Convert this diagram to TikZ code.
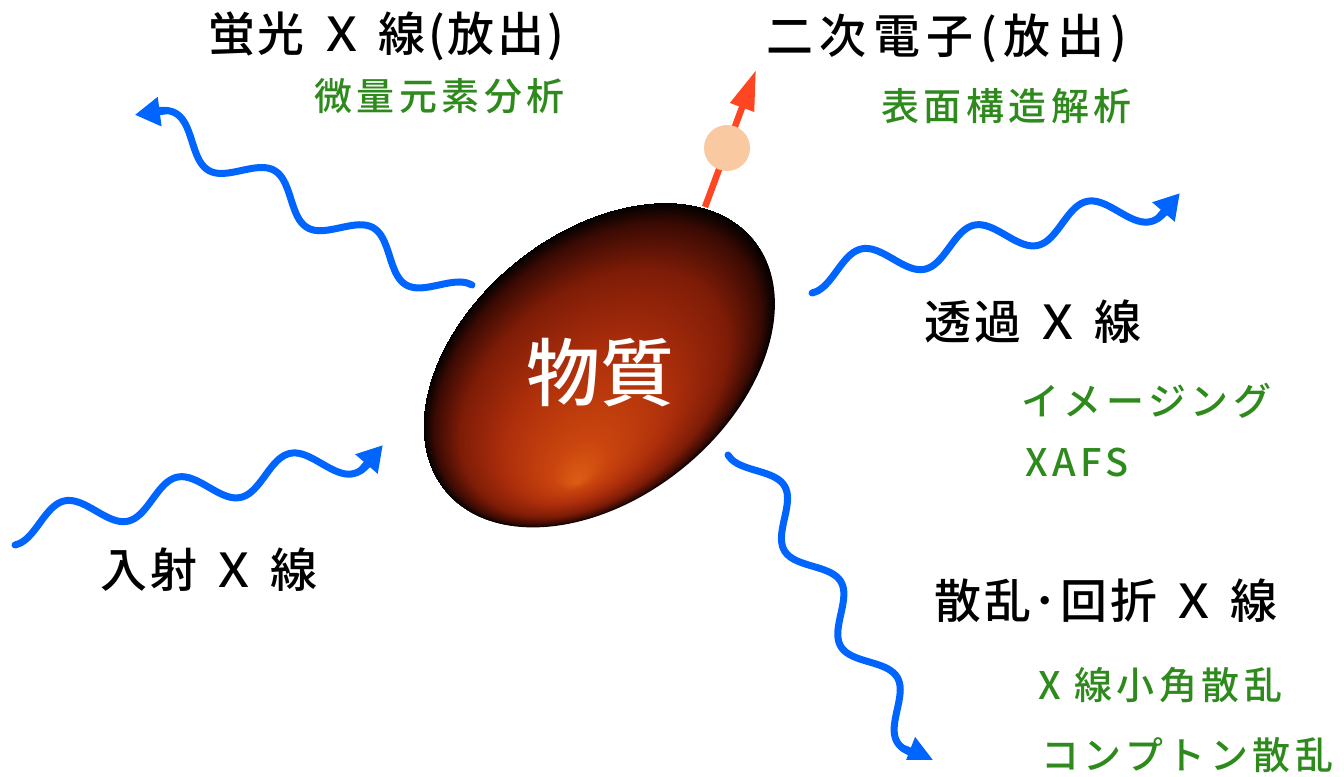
\documentclass[tikz,border=0pt]{standalone}
\usepackage{fontspec}
\usepackage{tikz}
\usetikzlibrary{arrows.meta}
\newfontfamily\jpfont[UprightFont={* Medium}, BoldFont={* Bold}]{Noto Sans CJK JP}
\definecolor{xblue}{HTML}{0064FF}
\definecolor{usegreen}{HTML}{2E8A1C}
\definecolor{elred}{HTML}{FF4522}
\definecolor{elball}{HTML}{F9C9A1}
\definecolor{mtA}{HTML}{DC5E14}
\definecolor{mtB}{HTML}{C9440E}
\definecolor{mtC}{HTML}{AC2E0B}
\definecolor{mtD}{HTML}{7E1C07}
\definecolor{mtE}{HTML}{3A0A03}
% glow of the sample, brightest towards its lower side
\pgfdeclareradialshading{matter}{\pgfpoint{-11.5bp}{-14.5bp}}{color(0bp)=(mtA); color(4bp)=(mtB); color(12bp)=(mtC); color(19bp)=(mtD); color(23.2bp)=(mtE); color(25bp)=(black)}
\def\wamp{16.5}\def\wphase{1189}
% wavy x-ray: name, start, angle, length
\newcommand{\xwave}[4]{%
  \begin{scope}[shift={(#2)}, rotate=#3]
    \draw[xray] plot[domain=0:0.95, samples=60, smooth, variable=\t] ({#4*\t}, {\wamp*(sin(\wphase*\t-90)+1)});
    \coordinate (#1-a) at ({#4*0.93}, {\wamp*(sin(\wphase*0.93-90)+1)});
    \coordinate (#1-b) at (#4, {\wamp*(sin(\wphase-90)+1)});
  \end{scope}
  \draw[xray, -{Triangle[length=5mm, width=5.6mm]}] (#1-a) -- (#1-b);}

\begin{document}
\begin{tikzpicture}[x=0.2mm, y=0.2mm,
  xray/.style={xblue, line width=1.4mm, line cap=round},
  lbl/.style={font=\jpfont\fontsize{26.7}{30}\selectfont\addfontfeature{LetterSpace=6}, inner sep=0pt},
  use/.style={font=\jpfont\fontsize{21.6}{26}\selectfont\addfontfeature{LetterSpace=12}, text=usegreen, inner sep=0pt},
  eltrack/.style={elred, line width=1.3mm, -{Triangle[length=8mm, width=4.8mm]}},
  electron/.style={circle, fill=elball, minimum size=9.2mm, inner sep=0pt}]
\useasboundingbox (0,0) rectangle (1344,-776);

% the sample
\begin{scope}[transform canvas={shift={(599,-365)}, rotate=39}]
  \shade[shading=matter] (0,0) ellipse [x radius=199, y radius=133];
\end{scope}
\node[font=\jpfont\fontsize{42}{46}\selectfont, text=white, inner sep=0pt] (matter) at (600,-373) {物質};

% x-rays in and out
\coordinate (inS) at (15,-545);
\coordinate (fluoS) at (472,-285);
\coordinate (transS) at (812,-293);
\coordinate (scatS) at (728,-455);
\xwave{in}{inS}{11.9}{380.5}
\xwave{fluo}{fluoS}{149.9}{377}
\xwave{trans}{transS}{11.9}{380.5}
\begin{scope}
  \clip (600,-300) rectangle (1000,-759);
  \xwave{scat}{scatS}{-59.5}{366.7}
\end{scope}

% secondary electron
\coordinate (elS) at (705,-207);
\coordinate (elT) at (756,-70);
\draw[eltrack] (elS) -- (elT);
\node[electron] (el) at (727,-148) {};

% labels
\node[lbl] (fluolbl) at (386,-36) {蛍光 Ｘ 線(放出)};
\node[use, anchor=east] (fluouse) at (565,-96) {微量元素分析};
\node[lbl, font=\jpfont\fontsize{26.7}{30}\selectfont\addfontfeature{LetterSpace=14}] (seclbl) at (947,-38) {二次電子(放出)};
\node[use, anchor=east] (secuse) at (1132,-106) {表面構造解析};
\node[lbl] (translbl) at (1033,-322) {透過 Ｘ 線};
\node[use, anchor=west] (imglbl) at (1021,-401) {イメージング};
\node[use, anchor=west] (xafslbl) at (1025,-463) {XAFS};
\node[lbl] (scatlbl) at (1106,-601) {散乱･回折 Ｘ 線};
\node[use, anchor=west] (saxslbl) at (1038,-685) {X 線小角散乱};
\node[use, anchor=west] (comptlbl) at (1041,-755) {コンプトン散乱};
\node[lbl] (inlbl) at (209,-570) {入射 Ｘ 線};
\end{tikzpicture}
\end{document}
